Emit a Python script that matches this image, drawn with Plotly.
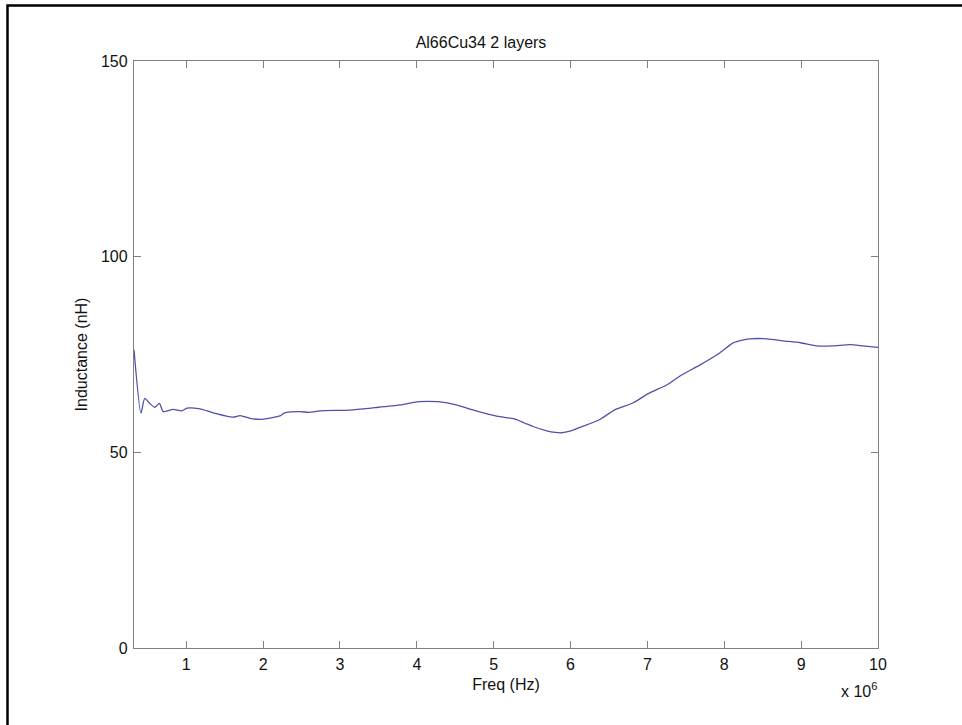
import plotly.graph_objects as go

# Frequency in MHz (axis shows x 10^6 Hz) and inductance in nH
freq_mhz = [0.32, 0.41, 0.46, 0.53, 0.59, 0.65, 0.70, 0.83, 0.94, 1.01, 1.18, 1.35,
            1.61, 1.70, 1.83, 1.96, 2.10, 2.22, 2.28, 2.48, 2.60, 2.74, 3.13, 3.45,
            3.78, 4.00, 4.15, 4.30, 4.50, 4.65, 4.83, 5.08, 5.26, 5.40, 5.51, 5.69,
            5.80, 5.88, 5.95, 6.05, 6.14, 6.38, 6.57, 6.81, 7.01, 7.25, 7.44, 7.68,
            7.94, 8.11, 8.22, 8.33, 8.56, 8.76, 8.99, 9.21, 9.41, 9.64, 9.80, 10.0]
inductance_nh = [76.2, 60.0, 63.8, 62.4, 61.5, 62.5, 60.4, 61.0, 60.6, 61.3, 61.1, 60.1,
                 59.0, 59.4, 58.7, 58.4, 58.8, 59.3, 60.1, 60.4, 60.2, 60.6, 60.8, 61.4,
                 62.1, 62.9, 63.0, 62.9, 62.2, 61.3, 60.3, 59.1, 58.6, 57.5, 56.6, 55.5,
                 55.1, 55.0, 55.2, 55.8, 56.5, 58.4, 60.8, 62.6, 65.0, 67.2, 69.7, 72.3,
                 75.4, 77.9, 78.6, 79.0, 79.0, 78.5, 78.0, 77.2, 77.2, 77.5, 77.2, 76.8]

x_tick_vals = [1, 2, 3, 4, 5, 6, 7, 8, 9, 10]
x_tick_text = ["1", "2", "3", "4", "5", "6", "7", "8", "9", "10"]
y_tick_vals = [0, 50, 100, 150]

FONT = "Liberation Sans, Arial, sans-serif"

fig = go.Figure()
fig.add_trace(go.Scatter(
    x=[f * 1e6 for f in freq_mhz], y=inductance_nh, mode="lines",
    line=dict(color="#5050aa", width=1.3, shape="spline", smoothing=0.6),
    showlegend=False, hoverinfo="skip"))

L, R, T, B = 134, 84, 61, 77
W, H = 962, 725
pw, ph = W - L - R, H - T - B

def px(xp):
    return (xp - L) / pw

def py(yp):
    return (H - B - yp) / ph

fig.update_layout(
    width=W, height=H,
    margin=dict(l=L, r=R, t=T, b=B, pad=0),
    paper_bgcolor="white", plot_bgcolor="white",
    font=dict(family=FONT, size=16, color="#111"),
    title=dict(text="Al66Cu34 2 layers", x=0.5, xanchor="center",
               y=1 - 42 / H, yanchor="middle", font=dict(size=16)),
    xaxis=dict(range=[0.32e6, 10e6], tickvals=[v * 1e6 for v in x_tick_vals],
               ticktext=x_tick_text, ticks="inside", ticklen=7, tickcolor="#808080",
               showline=True, linecolor="#808080", linewidth=1.3, mirror="ticks",
               showgrid=False, zeroline=False, tickfont=dict(size=16),
               ticklabelstandoff=2,
               title=dict(text="Freq (Hz)", standoff=6, font=dict(size=16))),
    yaxis=dict(range=[0, 150], tickvals=y_tick_vals, ticks="inside", ticklen=7,
               tickcolor="#808080", showline=True, linecolor="#808080", linewidth=1.3,
               mirror="ticks", showgrid=False, zeroline=False, tickfont=dict(size=16),
               ticklabelstandoff=2,
               title=dict(text="Inductance (nH)", standoff=9, font=dict(size=16))),
    shapes=[dict(type="rect", xref="paper", yref="paper",
                 x0=px(7.5), x1=px(975), y0=py(740), y1=py(5.5),
                 line=dict(color="black", width=2.5), fillcolor="rgba(0,0,0,0)")],
    annotations=[dict(text="x 10<sup>6</sup>", xref="paper", yref="paper",
                      x=px(879), y=py(690), xanchor="right", yanchor="middle",
                      showarrow=False, font=dict(size=16, family=FONT))],
)

fig.write_html("out.html",
               config={"displayModeBar": False},
               post_script="document.body.style.margin='0px';document.body.style.overflow='hidden';")
